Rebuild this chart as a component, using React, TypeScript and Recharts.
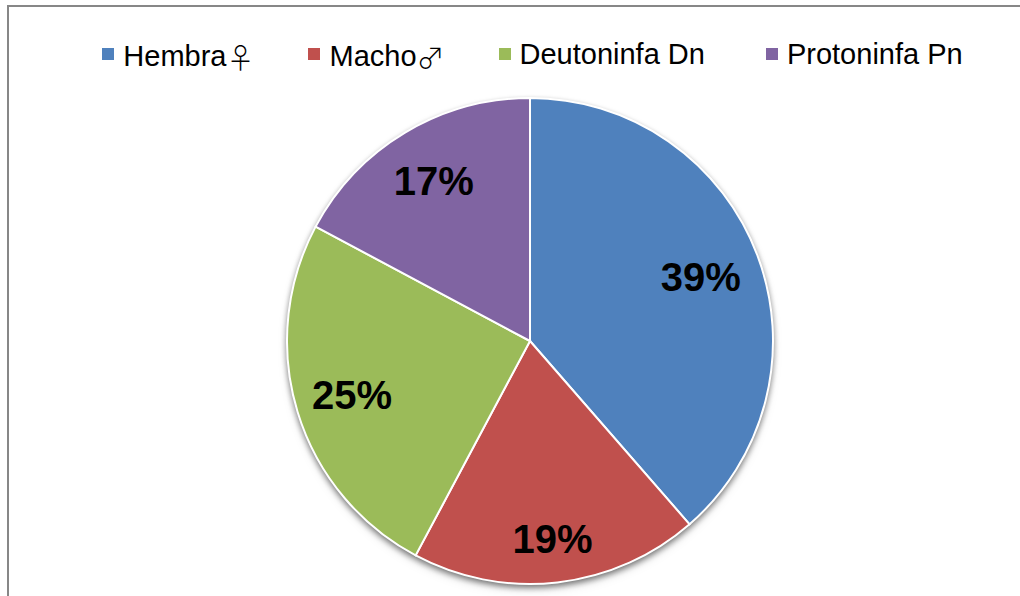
import React from "react";
import { PieChart, Pie, Cell, Legend } from "recharts";

const categories = ["Hembra♀", "Macho♂", "Deutoninfa Dn", "Protoninfa Pn"];
const values = [38.6, 19.2, 25.0, 17.2];
const colors = ["#4F81BD", "#C0504D", "#9BBB59", "#8064A2"];

const data = categories.map((name, i) => ({ name, value: values[i] }));

// label placement (fraction of outer radius), per slice
const LABEL_R = [0.75, 0.82, 0.765, 0.77];
const RAD = Math.PI / 180;
const FONT = '"Liberation Sans", Arial, sans-serif';

const renderLabel = (props: any) => {
  const { cx, cy, midAngle, outerRadius, percent, index } = props;
  const r = outerRadius * LABEL_R[index];
  const x = cx + r * Math.cos(-midAngle * RAD);
  const y = cy + r * Math.sin(-midAngle * RAD);
  return (
    <text
      x={x}
      y={y}
      textAnchor="middle"
      dominantBaseline="central"
      fill="#000"
      fontFamily={FONT}
      fontWeight="bold"
      fontSize={40}
    >
      {`${Math.round(percent * 100)}%`}
    </text>
  );
};

const renderName = (c: string) =>
  c.split(/([♀♂])/).map((part, j) =>
    part === "♀" || part === "♂" ? (
      <span
        key={j}
        style={{
          fontFamily: '"Noto Sans CJK JP", "DejaVu Sans", sans-serif',
          fontSize: 28,
          fontWeight: 300,
          lineHeight: "28px",
          display: "inline-block",
          width: 21,
          overflow: "visible",
          transform: "translateY(3px)",
        }}
      >
        {part}
      </span>
    ) : (
      <span key={j}>{part}</span>
    )
  );

const renderLegend = () => (
  <div
    style={{
      display: "flex",
      justifyContent: "center",
      alignItems: "center",
      fontFamily: FONT,
      fontSize: 29,
      lineHeight: "28px",
      color: "#000",
      whiteSpace: "nowrap",
    }}
  >
    {categories.map((c, i) => (
      <div
        key={c}
        style={{
          display: "flex",
          alignItems: "center",
          marginLeft: i === 0 ? 0 : 61,
        }}
      >
        <span
          style={{
            display: "inline-block",
            width: 12,
            height: 12,
            background: colors[i],
            marginRight: 9,
          }}
        />
        <span style={{ height: 28 }}>{renderName(c)}</span>
      </div>
    ))}
  </div>
);

export default function App() {
  return (
    <div
      style={{
        position: "fixed",
        left: 0,
        top: 0,
        width: 1020,
        height: 596,
        overflow: "hidden",
        background: "#fff",
      }}
    >
      <style>{`.pie-shadow{filter:drop-shadow(0px 3px 3px rgba(0,0,0,0.35));}`}</style>
      <div
        style={{
          position: "absolute",
          left: 7,
          top: 5,
          width: 1100,
          height: 700,
          borderLeft: "2px solid #878787",
          borderTop: "2px solid #878787",
          boxSizing: "border-box",
        }}
      />
      <div style={{ position: "absolute", left: 0, top: 0 }}>
        <PieChart width={1020} height={596} margin={{ top: 0, right: 0, bottom: 0, left: 0 }}>
          <Pie
            data={[{ name: "bg", value: 1 }]}
            dataKey="value"
            cx={530}
            cy={341}
            outerRadius={243}
            startAngle={90}
            endAngle={-270}
            fill="#fff"
            stroke="none"
            className="pie-shadow"
            isAnimationActive={false}
            legendType="none"
            label={false}
          />
          <Pie
            data={data}
            dataKey="value"
            nameKey="name"
            cx={530}
            cy={341}
            outerRadius={243}
            startAngle={90}
            endAngle={-270}
            stroke="#fff"
            strokeWidth={2}
            labelLine={false}
            label={renderLabel}
            isAnimationActive={false}
          >
            {data.map((d, i) => (
              <Cell key={d.name} fill={colors[i]} />
            ))}
          </Pie>
          <Legend
            verticalAlign="middle"
            layout="horizontal"
            content={renderLegend}
            wrapperStyle={{ top: 40, left: 0, width: 1065, height: 28 }}
          />
        </PieChart>
      </div>
    </div>
  );
}
